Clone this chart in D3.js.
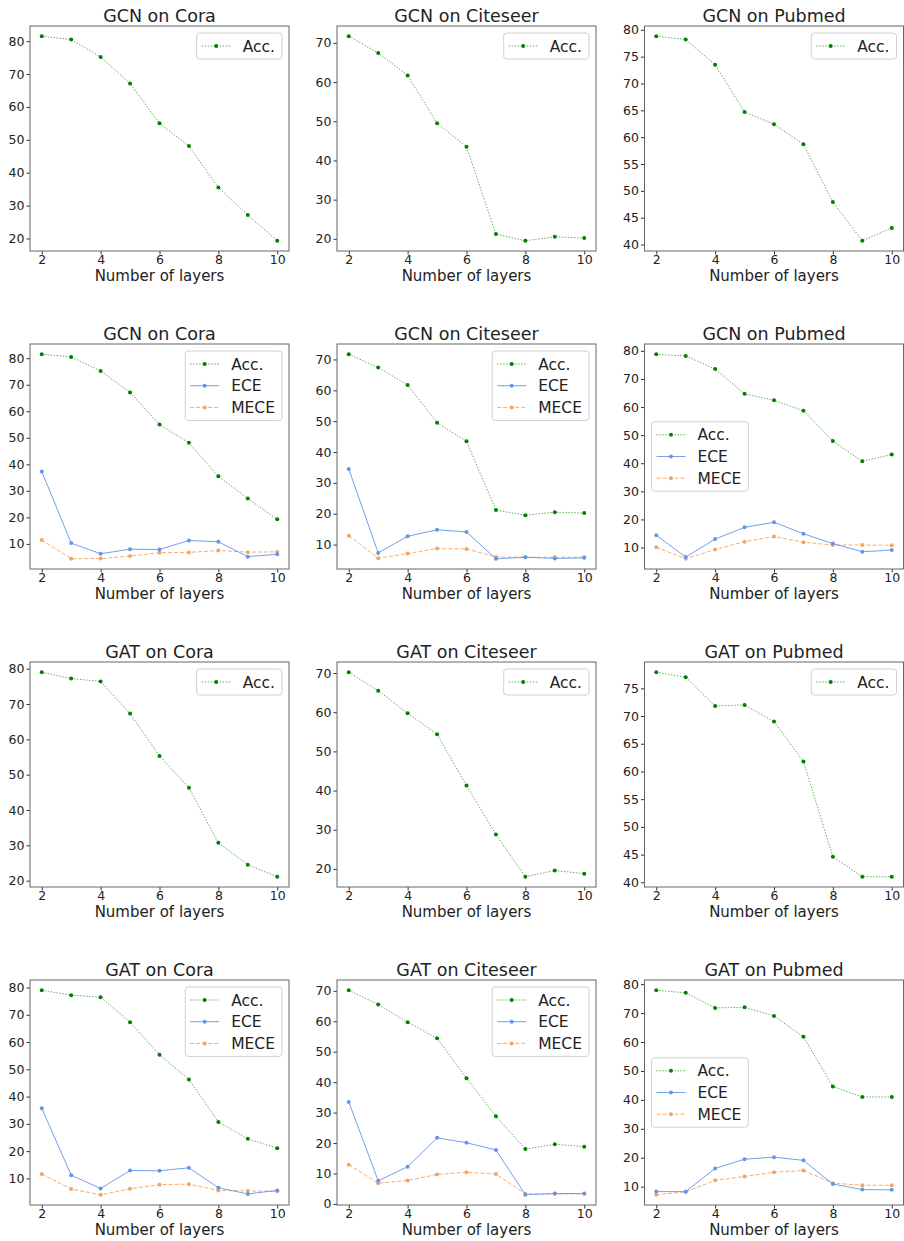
<!DOCTYPE html>
<html>
<head>
<meta charset="utf-8">
<script src="https://cdn.jsdelivr.net/npm/d3@7"></script>
<style>
  body { margin: 0; background: #fff; }
  text { font-family: "DejaVu Sans", sans-serif; fill: #222; }
</style>
</head>
<body>
<div class="chart"></div>
<script>
// x values shared by all panels
var layers = [2, 3, 4, 5, 6, 7, 8, 9, 10];

// accuracy
var gcnCoraAcc     = [81.5, 80.5, 75.2, 67.1, 55.0, 48.1, 35.5, 27.1, 19.3];
var gcnCiteseerAcc = [71.7, 67.4, 61.7, 49.5, 43.5, 21.2, 19.5, 20.5, 20.2];
var gcnPubmedAcc   = [78.8, 78.2, 73.5, 64.7, 62.4, 58.7, 47.9, 40.7, 43.1];
var gatCoraAcc     = [79.0, 77.2, 76.4, 67.3, 55.3, 46.3, 30.7, 24.5, 21.1];
var gatCiteseerAcc = [70.2, 65.5, 59.7, 54.4, 41.3, 28.8, 18.0, 19.6, 18.8];
var gatPubmedAcc   = [77.9, 77.0, 71.8, 72.0, 69.0, 61.8, 44.6, 41.0, 41.0];

// calibration errors
var gcnCoraEce      = [37.3, 10.3, 6.3, 8.0, 7.9, 11.3, 10.8, 5.2, 6.1];
var gcnCoraMece     = [11.5, 4.4, 4.5, 5.4, 6.7, 6.8, 7.5, 6.9, 7.0];
var gcnCiteseerEce  = [34.5, 7.3, 12.7, 14.8, 14.1, 5.4, 5.9, 5.5, 5.7];
var gcnCiteseerMece = [12.9, 5.6, 7.1, 8.7, 8.6, 6.0, 5.9, 5.9, 5.9];
var gcnPubmedEce    = [14.4, 6.6, 13.0, 17.2, 19.0, 14.9, 11.4, 8.5, 9.1];
var gcnPubmedMece   = [10.1, 6.0, 9.3, 12.1, 13.9, 11.9, 10.9, 10.9, 10.8];
var gatCoraEce      = [35.7, 11.2, 6.3, 12.9, 12.8, 13.9, 6.6, 4.3, 5.6];
var gatCoraMece     = [11.6, 6.1, 4.0, 6.2, 7.7, 7.9, 5.6, 5.4, 5.3];
var gatCiteseerEce  = [33.5, 7.6, 12.2, 21.7, 20.1, 17.7, 3.0, 3.4, 3.4];
var gatCiteseerMece = [12.9, 6.8, 7.7, 9.7, 10.4, 9.8, 3.3, 3.3, 3.3];
var gatPubmedEce    = [8.3, 8.3, 16.3, 19.5, 20.2, 19.1, 10.9, 9.0, 8.9];
var gatPubmedMece   = [7.2, 8.2, 12.2, 13.5, 15.0, 15.6, 11.2, 10.5, 10.5];

var titles = ["GCN on Cora", "GCN on Citeseer", "GCN on Pubmed",
              "GCN on Cora", "GCN on Citeseer", "GCN on Pubmed",
              "GAT on Cora", "GAT on Citeseer", "GAT on Pubmed",
              "GAT on Cora", "GAT on Citeseer", "GAT on Pubmed"];
var yTickSteps = [10, 10, 5, 10, 10, 10, 10, 10, 5, 10, 10, 10];
var xTicks = [2, 4, 6, 8, 10];
var seriesNames = ["Acc.", "ECE", "MECE"];

// layout
var W = 904, H = 1241;
var colLeft = [30, 337, 644.5], rowTop = [26, 344, 662, 980];
var axW = 259, axH = 225;

var styles = {
  "Acc.": {color: "#008000", dash: "1.4,1.6", op: 0.65},
  "ECE":  {color: "#6495ed", dash: null,      op: 0.9},
  "MECE": {color: "#f4a460", dash: "4,2",     op: 0.9}
};

var panels = [
  {acc: gcnCoraAcc}, {acc: gcnCiteseerAcc}, {acc: gcnPubmedAcc},
  {acc: gcnCoraAcc, ece: gcnCoraEce, mece: gcnCoraMece},
  {acc: gcnCiteseerAcc, ece: gcnCiteseerEce, mece: gcnCiteseerMece},
  {acc: gcnPubmedAcc, ece: gcnPubmedEce, mece: gcnPubmedMece, legendLeft: true},
  {acc: gatCoraAcc}, {acc: gatCiteseerAcc}, {acc: gatPubmedAcc},
  {acc: gatCoraAcc, ece: gatCoraEce, mece: gatCoraMece},
  {acc: gatCiteseerAcc, ece: gatCiteseerEce, mece: gatCiteseerMece},
  {acc: gatPubmedAcc, ece: gatPubmedEce, mece: gatPubmedMece, legendLeft: true}
];

var svg = d3.select(".chart")
  .append("svg")
    .attr("width", W)
    .attr("height", H);

panels.forEach(function(p, i) {
  var row = Math.floor(i / 3), col = i % 3;
  var series = [{name: "Acc.", values: p.acc}];
  if (p.ece) {
    series.push({name: "ECE", values: p.ece});
    series.push({name: "MECE", values: p.mece});
  }

  var g = svg.append("g")
    .attr("transform", "translate(" + colLeft[col] + "," + rowTop[row] + ")");

  // matplotlib-like 5% margins
  var x = d3.scaleLinear().domain([1.6, 10.4]).range([0, axW]);
  var all = d3.merge(series.map(function(s) { return s.values; }));
  var lo = d3.min(all), hi = d3.max(all), pad = (hi - lo) * 0.05;
  var y = d3.scaleLinear().domain([lo - pad, hi + pad]).range([axH, 0]);

  var step = yTickSteps[i];
  var yTicks = d3.range(Math.ceil((lo - pad) / step) * step, hi + pad, step);

  var xaxis = d3.axisBottom(x).tickValues(xTicks).tickSize(3.5).tickPadding(1);
  var yaxis = d3.axisLeft(y).tickValues(yTicks).tickSize(3.5).tickPadding(2);

  var gx = g.append("g")
    .attr("class", "x axis")
    .attr("transform", "translate(0," + axH + ")")
    .call(xaxis);
  var gy = g.append("g")
    .attr("class", "y axis")
    .call(yaxis);
  [gx, gy].forEach(function(a) {
    a.select(".domain").remove();
    a.selectAll("line").attr("stroke", "#333");
    a.selectAll("text").style("font-size", "12.5px").attr("fill", "#222");
  });

  // frame
  g.append("rect")
    .attr("width", axW)
    .attr("height", axH)
    .attr("fill", "none")
    .attr("stroke", "#666")
    .attr("stroke-width", 1);

  var line = d3.line()
    .x(function(d, k) { return x(layers[k]); })
    .y(function(d) { return y(d); });

  series.slice().reverse().forEach(function(s) {
    var st = styles[s.name];
    g.append("path")
      .datum(s.values)
      .attr("fill", "none")
      .attr("stroke", st.color)
      .attr("stroke-opacity", st.op)
      .attr("stroke-width", 1)
      .attr("stroke-dasharray", st.dash)
      .attr("d", line);
    g.selectAll(null)
      .data(s.values)
      .enter().append("circle")
        .attr("cx", function(d, k) { return x(layers[k]); })
        .attr("cy", function(d) { return y(d); })
        .attr("r", 2)
        .attr("fill", st.color);
  });

  g.append("text")
    .attr("x", axW / 2)
    .attr("y", -4)
    .attr("text-anchor", "middle")
    .style("font-size", "17.5px")
    .text(titles[i]);

  g.append("text")
    .attr("x", axW / 2)
    .attr("y", axH + 30)
    .attr("text-anchor", "middle")
    .style("font-size", "15px")
    .text("Number of layers");

  // legend
  var rowH = 21.7;
  var lg = g.append("g");
  var box = lg.append("rect")
    .attr("rx", 3)
    .attr("fill", "#fff")
    .attr("fill-opacity", 0.85)
    .attr("stroke", "#d0d0d0");
  var maxW = 0;
  series.forEach(function(s, k) {
    var st = styles[s.name];
    var cy = 13 + k * rowH;
    lg.append("line")
      .attr("x1", 5).attr("x2", 34)
      .attr("y1", cy).attr("y2", cy)
      .attr("stroke", st.color)
      .attr("stroke-opacity", st.op)
      .attr("stroke-dasharray", st.dash);
    lg.append("circle")
      .attr("cx", 19.5).attr("cy", cy).attr("r", 2)
      .attr("fill", st.color);
    var t = lg.append("text")
      .attr("x", 46)
      .attr("y", cy + 5.5)
      .style("font-size", "15.5px")
      .text(s.name);
    maxW = Math.max(maxW, t.node().getComputedTextLength());
  });
  var bw = 46 + maxW + 7, bh = 26 + (series.length - 1) * rowH;
  box.attr("width", bw).attr("height", bh);
  if (p.legendLeft) {
    lg.attr("transform", "translate(7," + (axH / 2 - bh / 2) + ")");
  } else {
    lg.attr("transform", "translate(" + (axW - 7 - bw) + ",7)");
  }
});
</script>
</body>
</html>
